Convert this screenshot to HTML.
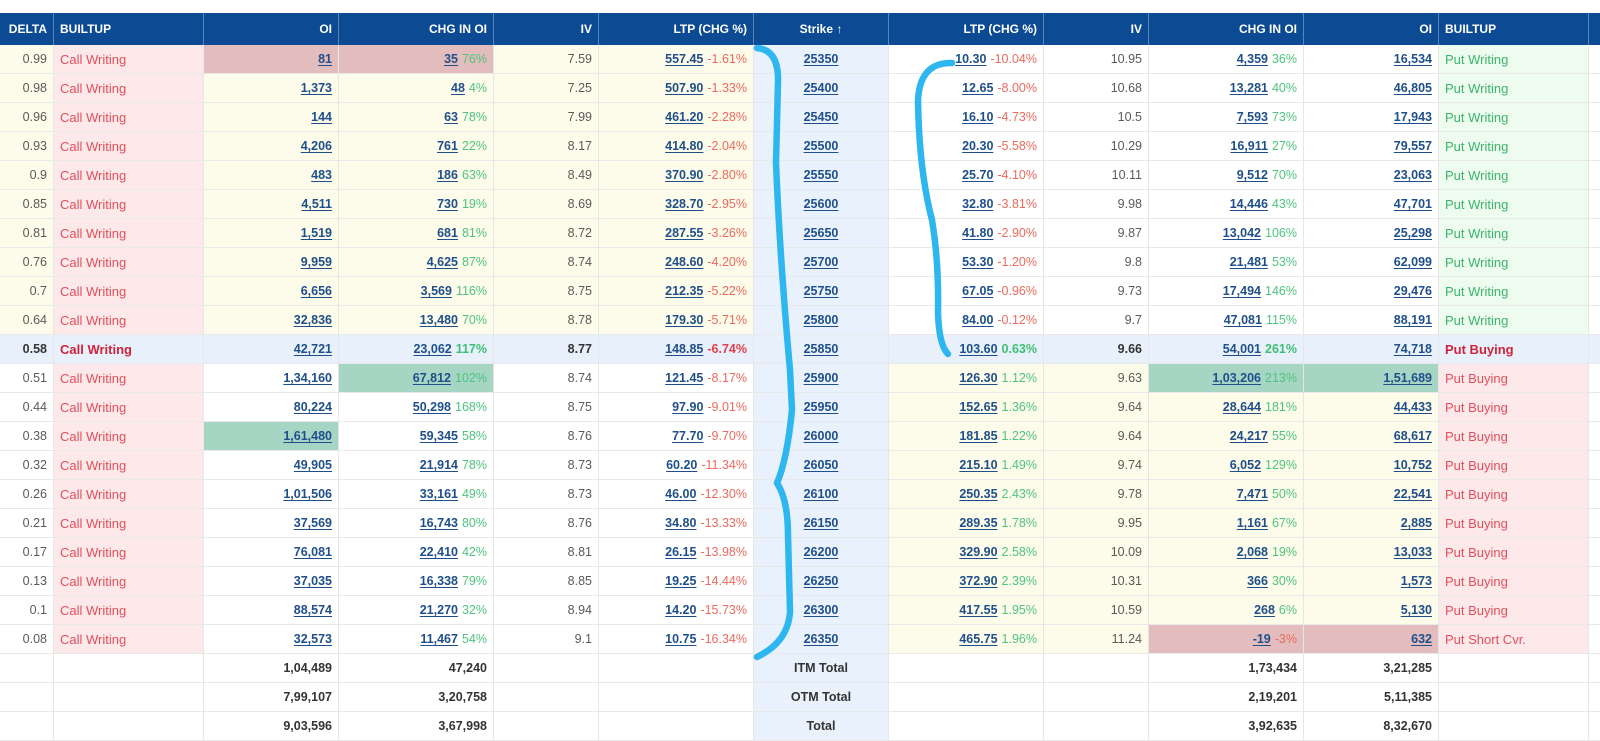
<!DOCTYPE html>
<html>
<head>
<meta charset="utf-8">
<style>
html,body{margin:0;padding:0;background:#fff;}
body{width:1600px;height:735px;overflow:hidden;position:relative;font-family:"Liberation Sans",sans-serif;}
.grid{position:absolute;left:0;top:13px;display:grid;grid-template-columns:54px 150px 135px 155px 105px 155px 135px 155px 105px 155px 135px 150px 11px;grid-template-rows:32px;grid-auto-rows:29px;width:1600px;}
.c{box-sizing:border-box;border-right:1px solid #e6e6e6;border-bottom:1px solid #e9e9e9;padding:0 6px;display:flex;align-items:center;justify-content:flex-end;white-space:nowrap;overflow:hidden;font-size:12.5px;color:#5a5a5a;background:#fff;}
.h{background:#0c4b93;color:#fff;font-weight:bold;font-size:12px;border-right:1px solid #5a83ba;border-bottom:none;}
.l{justify-content:flex-start;}
.m{justify-content:center;}
.y{background:#fdfbea;}
.p{background:#fde8ea;}
.g{background:#edfcef;}
.s{background:#e9f2fc;}
.a{background:#e8f1fb;}
.hp{background:#e3bcbd;}
.ht{background:#a6d6c3;}
.rt{color:#e2505b;font-size:13px;}
.gt{color:#3cb46c;font-size:13px;}
u{color:#1f4f8b;font-weight:bold;text-decoration:underline;text-underline-offset:2px;}
i{font-style:normal;margin-left:4px;}
.up{color:#4fc47f;}
.dn{color:#ec6a5e;}
.b{font-weight:bold;color:#333;}
.atm .c{font-weight:bold;}
.br{color:#d0233a;font-weight:bold;font-size:13px;}
.tot{font-weight:bold;color:#333;}
svg{position:absolute;left:0;top:0;}
</style>
</head>
<body>
<div class="grid">
<!-- header -->
<div class="c h">DELTA</div><div class="c h l">BUILTUP</div><div class="c h">OI</div><div class="c h">CHG IN OI</div><div class="c h">IV</div><div class="c h">LTP (CHG %)</div><div class="c h m">Strike &#8593;</div><div class="c h">LTP (CHG %)</div><div class="c h">IV</div><div class="c h">CHG IN OI</div><div class="c h">OI</div><div class="c h l">BUILTUP</div><div class="c h"></div>

<!-- row 0 -->
<div class="c y">0.99</div><div class="c p l rt">Call Writing</div><div class="c hp"><u>81</u></div><div class="c hp"><u>35</u><i class="up">76%</i></div><div class="c y">7.59</div><div class="c y"><u>557.45</u><i class="dn">-1.61%</i></div><div class="c s m"><u>25350</u></div><div class="c"><u>10.30</u><i class="dn">-10.04%</i></div><div class="c">10.95</div><div class="c"><u>4,359</u><i class="up">36%</i></div><div class="c"><u>16,534</u></div><div class="c g l gt">Put Writing</div><div class="c"></div>
<!-- row 1 -->
<div class="c y">0.98</div><div class="c p l rt">Call Writing</div><div class="c y"><u>1,373</u></div><div class="c y"><u>48</u><i class="up">4%</i></div><div class="c y">7.25</div><div class="c y"><u>507.90</u><i class="dn">-1.33%</i></div><div class="c s m"><u>25400</u></div><div class="c"><u>12.65</u><i class="dn">-8.00%</i></div><div class="c">10.68</div><div class="c"><u>13,281</u><i class="up">40%</i></div><div class="c"><u>46,805</u></div><div class="c g l gt">Put Writing</div><div class="c"></div>
<!-- row 2 -->
<div class="c y">0.96</div><div class="c p l rt">Call Writing</div><div class="c y"><u>144</u></div><div class="c y"><u>63</u><i class="up">78%</i></div><div class="c y">7.99</div><div class="c y"><u>461.20</u><i class="dn">-2.28%</i></div><div class="c s m"><u>25450</u></div><div class="c"><u>16.10</u><i class="dn">-4.73%</i></div><div class="c">10.5</div><div class="c"><u>7,593</u><i class="up">73%</i></div><div class="c"><u>17,943</u></div><div class="c g l gt">Put Writing</div><div class="c"></div>
<!-- row 3 -->
<div class="c y">0.93</div><div class="c p l rt">Call Writing</div><div class="c y"><u>4,206</u></div><div class="c y"><u>761</u><i class="up">22%</i></div><div class="c y">8.17</div><div class="c y"><u>414.80</u><i class="dn">-2.04%</i></div><div class="c s m"><u>25500</u></div><div class="c"><u>20.30</u><i class="dn">-5.58%</i></div><div class="c">10.29</div><div class="c"><u>16,911</u><i class="up">27%</i></div><div class="c"><u>79,557</u></div><div class="c g l gt">Put Writing</div><div class="c"></div>
<!-- row 4 -->
<div class="c y">0.9</div><div class="c p l rt">Call Writing</div><div class="c y"><u>483</u></div><div class="c y"><u>186</u><i class="up">63%</i></div><div class="c y">8.49</div><div class="c y"><u>370.90</u><i class="dn">-2.80%</i></div><div class="c s m"><u>25550</u></div><div class="c"><u>25.70</u><i class="dn">-4.10%</i></div><div class="c">10.11</div><div class="c"><u>9,512</u><i class="up">70%</i></div><div class="c"><u>23,063</u></div><div class="c g l gt">Put Writing</div><div class="c"></div>
<!-- row 5 -->
<div class="c y">0.85</div><div class="c p l rt">Call Writing</div><div class="c y"><u>4,511</u></div><div class="c y"><u>730</u><i class="up">19%</i></div><div class="c y">8.69</div><div class="c y"><u>328.70</u><i class="dn">-2.95%</i></div><div class="c s m"><u>25600</u></div><div class="c"><u>32.80</u><i class="dn">-3.81%</i></div><div class="c">9.98</div><div class="c"><u>14,446</u><i class="up">43%</i></div><div class="c"><u>47,701</u></div><div class="c g l gt">Put Writing</div><div class="c"></div>
<!-- row 6 -->
<div class="c y">0.81</div><div class="c p l rt">Call Writing</div><div class="c y"><u>1,519</u></div><div class="c y"><u>681</u><i class="up">81%</i></div><div class="c y">8.72</div><div class="c y"><u>287.55</u><i class="dn">-3.26%</i></div><div class="c s m"><u>25650</u></div><div class="c"><u>41.80</u><i class="dn">-2.90%</i></div><div class="c">9.87</div><div class="c"><u>13,042</u><i class="up">106%</i></div><div class="c"><u>25,298</u></div><div class="c g l gt">Put Writing</div><div class="c"></div>
<!-- row 7 -->
<div class="c y">0.76</div><div class="c p l rt">Call Writing</div><div class="c y"><u>9,959</u></div><div class="c y"><u>4,625</u><i class="up">87%</i></div><div class="c y">8.74</div><div class="c y"><u>248.60</u><i class="dn">-4.20%</i></div><div class="c s m"><u>25700</u></div><div class="c"><u>53.30</u><i class="dn">-1.20%</i></div><div class="c">9.8</div><div class="c"><u>21,481</u><i class="up">53%</i></div><div class="c"><u>62,099</u></div><div class="c g l gt">Put Writing</div><div class="c"></div>
<!-- row 8 -->
<div class="c y">0.7</div><div class="c p l rt">Call Writing</div><div class="c y"><u>6,656</u></div><div class="c y"><u>3,569</u><i class="up">116%</i></div><div class="c y">8.75</div><div class="c y"><u>212.35</u><i class="dn">-5.22%</i></div><div class="c s m"><u>25750</u></div><div class="c"><u>67.05</u><i class="dn">-0.96%</i></div><div class="c">9.73</div><div class="c"><u>17,494</u><i class="up">146%</i></div><div class="c"><u>29,476</u></div><div class="c g l gt">Put Writing</div><div class="c"></div>
<!-- row 9 -->
<div class="c y">0.64</div><div class="c p l rt">Call Writing</div><div class="c y"><u>32,836</u></div><div class="c y"><u>13,480</u><i class="up">70%</i></div><div class="c y">8.78</div><div class="c y"><u>179.30</u><i class="dn">-5.71%</i></div><div class="c s m"><u>25800</u></div><div class="c"><u>84.00</u><i class="dn">-0.12%</i></div><div class="c">9.7</div><div class="c"><u>47,081</u><i class="up">115%</i></div><div class="c"><u>88,191</u></div><div class="c g l gt">Put Writing</div><div class="c"></div>
<!-- row 10 ATM -->
<div class="c a b">0.58</div><div class="c a l br">Call Writing</div><div class="c a"><u>42,721</u></div><div class="c a"><u>23,062</u><i class="up b" style="color:#3fbf74">117%</i></div><div class="c a b">8.77</div><div class="c a"><u>148.85</u><i class="dn b" style="color:#e2404a">-6.74%</i></div><div class="c a m"><u>25850</u></div><div class="c a"><u>103.60</u><i class="up b" style="color:#3fbf74">0.63%</i></div><div class="c a b">9.66</div><div class="c a"><u>54,001</u><i class="up b" style="color:#3fbf74">261%</i></div><div class="c a"><u>74,718</u></div><div class="c a l br">Put Buying</div><div class="c a"></div>
<!-- row 11 -->
<div class="c">0.51</div><div class="c p l rt">Call Writing</div><div class="c"><u>1,34,160</u></div><div class="c ht"><u>67,812</u><i class="up">102%</i></div><div class="c">8.74</div><div class="c"><u>121.45</u><i class="dn">-8.17%</i></div><div class="c s m"><u>25900</u></div><div class="c y"><u>126.30</u><i class="up">1.12%</i></div><div class="c y">9.63</div><div class="c ht"><u>1,03,206</u><i class="up">213%</i></div><div class="c ht"><u>1,51,689</u></div><div class="c p l rt">Put Buying</div><div class="c"></div>
<!-- row 12 -->
<div class="c">0.44</div><div class="c p l rt">Call Writing</div><div class="c"><u>80,224</u></div><div class="c"><u>50,298</u><i class="up">168%</i></div><div class="c">8.75</div><div class="c"><u>97.90</u><i class="dn">-9.01%</i></div><div class="c s m"><u>25950</u></div><div class="c y"><u>152.65</u><i class="up">1.36%</i></div><div class="c y">9.64</div><div class="c y"><u>28,644</u><i class="up">181%</i></div><div class="c y"><u>44,433</u></div><div class="c p l rt">Put Buying</div><div class="c"></div>
<!-- row 13 -->
<div class="c">0.38</div><div class="c p l rt">Call Writing</div><div class="c ht"><u>1,61,480</u></div><div class="c"><u>59,345</u><i class="up">58%</i></div><div class="c">8.76</div><div class="c"><u>77.70</u><i class="dn">-9.70%</i></div><div class="c s m"><u>26000</u></div><div class="c y"><u>181.85</u><i class="up">1.22%</i></div><div class="c y">9.64</div><div class="c y"><u>24,217</u><i class="up">55%</i></div><div class="c y"><u>68,617</u></div><div class="c p l rt">Put Buying</div><div class="c"></div>
<!-- row 14 -->
<div class="c">0.32</div><div class="c p l rt">Call Writing</div><div class="c"><u>49,905</u></div><div class="c"><u>21,914</u><i class="up">78%</i></div><div class="c">8.73</div><div class="c"><u>60.20</u><i class="dn">-11.34%</i></div><div class="c s m"><u>26050</u></div><div class="c y"><u>215.10</u><i class="up">1.49%</i></div><div class="c y">9.74</div><div class="c y"><u>6,052</u><i class="up">129%</i></div><div class="c y"><u>10,752</u></div><div class="c p l rt">Put Buying</div><div class="c"></div>
<!-- row 15 -->
<div class="c">0.26</div><div class="c p l rt">Call Writing</div><div class="c"><u>1,01,506</u></div><div class="c"><u>33,161</u><i class="up">49%</i></div><div class="c">8.73</div><div class="c"><u>46.00</u><i class="dn">-12.30%</i></div><div class="c s m"><u>26100</u></div><div class="c y"><u>250.35</u><i class="up">2.43%</i></div><div class="c y">9.78</div><div class="c y"><u>7,471</u><i class="up">50%</i></div><div class="c y"><u>22,541</u></div><div class="c p l rt">Put Buying</div><div class="c"></div>
<!-- row 16 -->
<div class="c">0.21</div><div class="c p l rt">Call Writing</div><div class="c"><u>37,569</u></div><div class="c"><u>16,743</u><i class="up">80%</i></div><div class="c">8.76</div><div class="c"><u>34.80</u><i class="dn">-13.33%</i></div><div class="c s m"><u>26150</u></div><div class="c y"><u>289.35</u><i class="up">1.78%</i></div><div class="c y">9.95</div><div class="c y"><u>1,161</u><i class="up">67%</i></div><div class="c y"><u>2,885</u></div><div class="c p l rt">Put Buying</div><div class="c"></div>
<!-- row 17 -->
<div class="c">0.17</div><div class="c p l rt">Call Writing</div><div class="c"><u>76,081</u></div><div class="c"><u>22,410</u><i class="up">42%</i></div><div class="c">8.81</div><div class="c"><u>26.15</u><i class="dn">-13.98%</i></div><div class="c s m"><u>26200</u></div><div class="c y"><u>329.90</u><i class="up">2.58%</i></div><div class="c y">10.09</div><div class="c y"><u>2,068</u><i class="up">19%</i></div><div class="c y"><u>13,033</u></div><div class="c p l rt">Put Buying</div><div class="c"></div>
<!-- row 18 -->
<div class="c">0.13</div><div class="c p l rt">Call Writing</div><div class="c"><u>37,035</u></div><div class="c"><u>16,338</u><i class="up">79%</i></div><div class="c">8.85</div><div class="c"><u>19.25</u><i class="dn">-14.44%</i></div><div class="c s m"><u>26250</u></div><div class="c y"><u>372.90</u><i class="up">2.39%</i></div><div class="c y">10.31</div><div class="c y"><u>366</u><i class="up">30%</i></div><div class="c y"><u>1,573</u></div><div class="c p l rt">Put Buying</div><div class="c"></div>
<!-- row 19 -->
<div class="c">0.1</div><div class="c p l rt">Call Writing</div><div class="c"><u>88,574</u></div><div class="c"><u>21,270</u><i class="up">32%</i></div><div class="c">8.94</div><div class="c"><u>14.20</u><i class="dn">-15.73%</i></div><div class="c s m"><u>26300</u></div><div class="c y"><u>417.55</u><i class="up">1.95%</i></div><div class="c y">10.59</div><div class="c y"><u>268</u><i class="up">6%</i></div><div class="c y"><u>5,130</u></div><div class="c p l rt">Put Buying</div><div class="c"></div>
<!-- row 20 -->
<div class="c">0.08</div><div class="c p l rt">Call Writing</div><div class="c"><u>32,573</u></div><div class="c"><u>11,467</u><i class="up">54%</i></div><div class="c">9.1</div><div class="c"><u>10.75</u><i class="dn">-16.34%</i></div><div class="c s m"><u>26350</u></div><div class="c y"><u>465.75</u><i class="up">1.96%</i></div><div class="c y">11.24</div><div class="c hp"><u>-19</u><i class="dn">-3%</i></div><div class="c hp"><u>632</u></div><div class="c p l rt">Put Short Cvr.</div><div class="c"></div>
<!-- ITM total -->
<div class="c"></div><div class="c"></div><div class="c tot">1,04,489</div><div class="c tot">47,240</div><div class="c"></div><div class="c"></div><div class="c s m tot">ITM Total</div><div class="c"></div><div class="c"></div><div class="c tot">1,73,434</div><div class="c tot">3,21,285</div><div class="c"></div><div class="c"></div>
<!-- OTM total -->
<div class="c"></div><div class="c"></div><div class="c tot">7,99,107</div><div class="c tot">3,20,758</div><div class="c"></div><div class="c"></div><div class="c s m tot">OTM Total</div><div class="c"></div><div class="c"></div><div class="c tot">2,19,201</div><div class="c tot">5,11,385</div><div class="c"></div><div class="c"></div>
<!-- Total -->
<div class="c"></div><div class="c"></div><div class="c tot">9,03,596</div><div class="c tot">3,67,998</div><div class="c"></div><div class="c"></div><div class="c s m tot">Total</div><div class="c"></div><div class="c"></div><div class="c tot">3,92,635</div><div class="c tot">8,32,670</div><div class="c"></div><div class="c"></div>
</div>

<svg width="1600" height="735" viewBox="0 0 1600 735">
<path d="M757,48 Q779,50 778,82 L776,163 Q780,260 790,370 L792,410 Q787,460 777,483 Q788,500 788,535 L790,612 Q788,642 757,657" fill="none" stroke="#2db6ef" stroke-width="6.5" stroke-linecap="round" stroke-linejoin="round"/>
<path d="M952,63 Q920,62 918,100 Q919,170 932,220 Q939,262 938,313 Q939,345 948,354" fill="none" stroke="#2db6ef" stroke-width="6.5" stroke-linecap="round" stroke-linejoin="round"/>
</svg>
</body>
</html>
